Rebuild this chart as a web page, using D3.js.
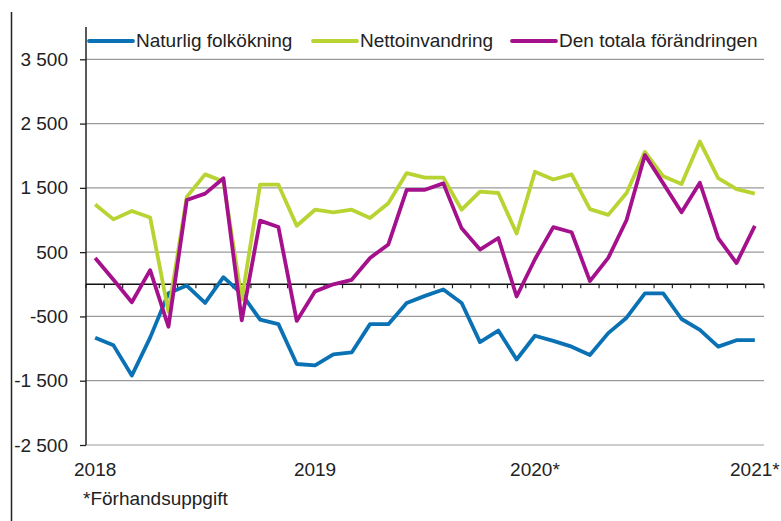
<!DOCTYPE html>
<html>
<head>
<meta charset="utf-8">
<script src="https://cdn.jsdelivr.net/npm/d3@7"></script>
<style>
  body { margin: 0; background: #fff; }
  text { font-family: "Liberation Sans", Arial, sans-serif; fill: #222; }
</style>
</head>
<body>
<div id="chart"></div>
<script>
// months Jan 2018 .. Jan 2021
var months = [];
for (var yr = 2018; yr <= 2021; yr++) {
  for (var m = 1; m <= 12; m++) {
    if (yr === 2021 && m > 1) break;
    months.push(yr + "-" + (m < 10 ? "0" + m : m));
  }
}
var yearLabels = { "2018-01": "2018", "2019-01": "2019", "2020-01": "2020*", "2021-01": "2021*" };
var yTicks = [3500, 2500, 1500, 500, -500, -1500, -2500];

var naturlig = [-830, -950, -1420, -830, -140, -20, -290, 110, -150, -550, -620, -1240,
  -1260, -1090, -1060, -620, -620, -290, -180, -80, -290, -900, -720, -1170,
  -800, -880, -970, -1100, -760, -520, -140, -140, -540, -710, -970, -870, -870];
var netto = [1240, 1010, 1140, 1040, -430, 1360, 1710, 1600, -240, 1550, 1550, 910,
  1160, 1120, 1160, 1030, 1260, 1730, 1660, 1660, 1160, 1440, 1420, 790,
  1750, 1630, 1710, 1170, 1080, 1420, 2060, 1680, 1560, 2220, 1650, 1480, 1410];
var totala = [410, 70, -280, 220, -660, 1310, 1410, 1650, -560, 990, 890, -570,
  -110, 0, 70, 410, 620, 1470, 1470, 1570, 870, 540, 720, -190,
  390, 890, 810, 50, 410, 1000, 2010, 1570, 1120, 1580, 720, 330, 910];

var series = [
  { name: "Naturlig folkökning", values: naturlig, color: "#0a72b4" },
  { name: "Nettoinvandring", values: netto, color: "#b8d432" },
  { name: "Den totala förändringen", values: totala, color: "#a5118c" }
];

var W = 781, H = 521;
var plot = { left: 86, right: 764, top: 59.3, bottom: 445 };
var fontSize = "19px";

var svg = d3.select("#chart").append("svg")
  .attr("width", W).attr("height", H);

// outer left border
svg.append("line").attr("x1", 11.5).attr("x2", 11.5).attr("y1", 12).attr("y2", H)
  .attr("stroke", "#222").attr("stroke-width", 1.5);

var x = d3.scalePoint().domain(months).range([plot.left, plot.right]).padding(0.5);
var y = d3.scaleLinear().domain([-2500, 3500]).range([plot.bottom, plot.top]);
var step = x.step();

var fmt = function (v) {
  var s = d3.format(",")(Math.abs(v)).replace(/,/g, " ");
  return (v < 0 ? "-" : "") + s;
};

// gridlines
svg.append("g").selectAll("line").data(yTicks).enter().append("line")
  .attr("x1", plot.left).attr("x2", plot.right)
  .attr("y1", function (d) { return y(d); }).attr("y2", function (d) { return y(d); })
  .attr("stroke", "#9a9a9a").attr("stroke-width", 1.2);

// y axis
var yAxis = svg.append("g").attr("transform", "translate(" + plot.left + ",0)")
  .call(d3.axisLeft(y).tickValues(yTicks).tickSize(6).tickPadding(12).tickFormat(fmt));
yAxis.select(".domain").attr("stroke", "#222").attr("stroke-width", 1.5)
  .attr("d", "M0," + 27 + "V" + plot.bottom);
yAxis.selectAll(".tick line").attr("stroke", "#222").attr("stroke-width", 1.3);
yAxis.selectAll(".tick text").style("font-size", fontSize).attr("fill", "#222")
  .attr("font-family", "Liberation Sans, Arial, sans-serif");

// zero line with month ticks
var zeroY = y(0);
var boundaries = months.map(function (d) { return x(d) - step / 2; });
boundaries.push(plot.right);
svg.append("g").selectAll("line").data(boundaries).enter().append("line")
  .attr("x1", function (d) { return d; }).attr("x2", function (d) { return d; })
  .attr("y1", zeroY).attr("y2", zeroY + 4)
  .attr("stroke", "#222").attr("stroke-width", 1.2);
svg.append("line").attr("x1", plot.left).attr("x2", plot.right)
  .attr("y1", zeroY).attr("y2", zeroY).attr("stroke", "#111").attr("stroke-width", 1.6);

// x labels
svg.append("g").selectAll("text").data(Object.keys(yearLabels)).enter().append("text")
  .attr("x", function (d) { return x(d); }).attr("y", 476)
  .attr("text-anchor", "middle").style("font-size", fontSize)
  .text(function (d) { return yearLabels[d]; });

// lines
var line = d3.line()
  .x(function (d, i) { return x(months[i]); })
  .y(function (d) { return y(d); });
svg.append("g").selectAll("path").data(series).enter().append("path")
  .attr("d", function (d) { return line(d.values); })
  .attr("fill", "none")
  .attr("stroke", function (d) { return d.color; })
  .attr("stroke-width", 3.8)
  .attr("stroke-linejoin", "round");

// legend
var legendPos = [89, 313, 512];
var lg = svg.append("g").selectAll("g").data(series).enter().append("g")
  .attr("transform", function (d, i) { return "translate(" + legendPos[i] + ",0)"; });
lg.append("line").attr("x1", 0).attr("x2", 44).attr("y1", 41).attr("y2", 41)
  .attr("stroke", function (d) { return d.color; }).attr("stroke-width", 3.8)
  .attr("stroke-linecap", "round");
lg.append("text").attr("x", 47).attr("y", 47).style("font-size", fontSize)
  .text(function (d) { return d.name; });

// footnote
svg.append("text").attr("x", 83).attr("y", 505).style("font-size", fontSize)
  .text("*Förhandsuppgift");
</script>
</body>
</html>
